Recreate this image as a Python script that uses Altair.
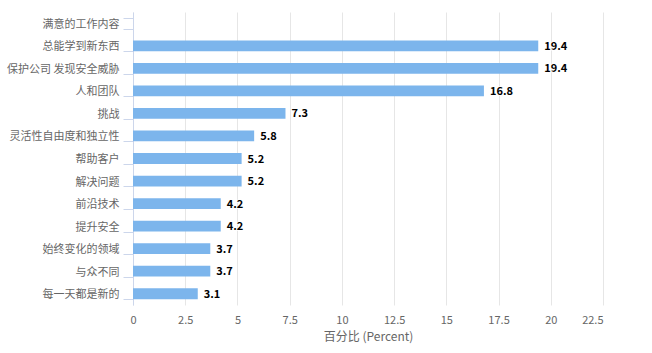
import altair as alt
import pandas as pd

categories = ["满意的工作内容", "总能学到新东西", "保护公司 发现安全威胁", "人和团队", "挑战",
              "灵活性自由度和独立性", "帮助客户", "解决问题", "前沿技术", "提升安全",
              "始终变化的领域", "与众不同", "每一天都是新的"]
values = [None, 19.4, 19.4, 16.8, 7.3, 5.8, 5.2, 5.2, 4.2, 4.2, 3.7, 3.7, 3.1]
x_ticks = [0, 2.5, 5, 7.5, 10, 12.5, 15, 17.5, 20, 22.5]

df = pd.DataFrame({"cat": categories, "val": values})
df["label"] = df["val"].map(lambda v: "" if pd.isna(v) else f"{v:.1f}")

FONT = "Noto Sans CJK SC"

y_enc = alt.Y("cat:N", sort=categories, title=None,
              scale=alt.Scale(paddingInner=0.52, paddingOuter=0.26),
              axis=alt.Axis(labelFont=FONT, labelFontSize=11, labelColor="#666666",
                            domainColor="#ccd6eb", tickColor="#ccd6eb", tickSize=10,
                            tickBand="extent", labelPadding=4, labelOffset=1, grid=False))
x_enc = alt.X("val:Q", title="百分比 (Percent)",
              scale=alt.Scale(domain=[0, 22.5], nice=False),
              axis=alt.Axis(values=x_ticks, labelExpr="format(datum.value, '.1~f')",
                            labelFont=FONT, labelFontSize=11,
                            labelColor="#666666", domain=False, ticks=False,
                            gridColor="#e6e6e6", labelPadding=9,
                            labelAlign=alt.ExprRef(expr="datum.value >= 22.5 ? 'right' : 'center'"),
                            titleFont=FONT, titleFontSize=12, titleFontWeight="normal",
                            titleColor="#666666", titlePadding=6))

base = alt.Chart(df)
bars = base.mark_bar(color="#7cb5ec").encode(y=y_enc, x=x_enc)
outline = base.transform_filter("isValid(datum.val)").mark_text(
    align="left", baseline="middle", dx=6, dy=1, font=FONT, fontSize=11, fontWeight="bold",
    stroke="white", strokeWidth=2, strokeOpacity=0.8, color="white"
).encode(y=alt.Y("cat:N", sort=categories), x=alt.X("val:Q"), text="label:N")
labels = base.transform_filter("isValid(datum.val)").mark_text(
    align="left", baseline="middle", dx=6, dy=1, font=FONT, fontSize=11, fontWeight="bold",
    color="#000000"
).encode(y=alt.Y("cat:N", sort=categories), x=alt.X("val:Q"), text="label:N")

chart = alt.layer(bars, outline, labels).properties(
    width=470, height=293,
    autosize=alt.AutoSizeParams(type="none"),
    padding={"left": 133, "top": 12, "right": 49, "bottom": 48},
    background="white",
).configure_view(stroke=None)

chart.save("out.html", embed_options={"renderer": "svg", "actions": False})
